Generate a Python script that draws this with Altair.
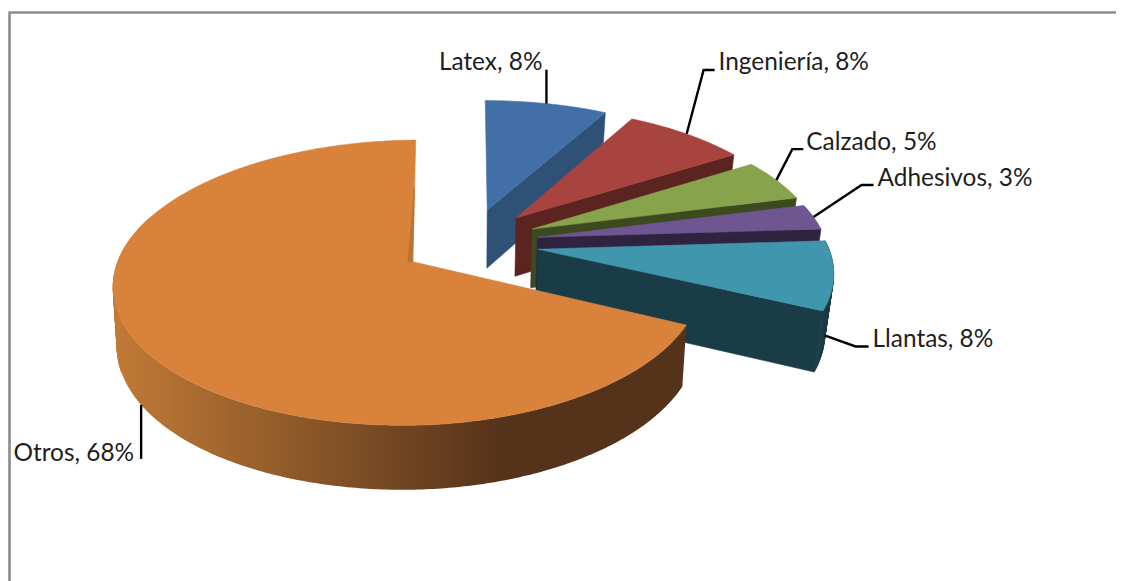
import math
import altair as alt
import pandas as pd

# ---- values ----
categories = ["Latex", "Ingeniería", "Calzado", "Adhesivos", "Llantas", "Otros"]
shares = [8, 8, 5, 3, 8, 68]

# ---- styles ----
top_colors = ["#4270a6", "#a74440", "#87a34c", "#6f5690", "#3f96ad", "#d8823b"]
wall_colors = ["#2e5175", "#5b2420", "#3b4a1f", "#2f2340", "#1a3c47", "#55321a"]
otros_wall = [(0, "#c27a36"), (0.31, "#8f5a2a"), (0.68, "#55321a"), (1, "#55321a")]

# ---- 3D view ----
X0, Y0, RX, A, K = 471, 242.7, 289, 134, 0.144
EXPLODE, EXPLODE_Y = 0.234, 1.11
S_X, S_Y, H = 0.975, 1.03, 59
OTROS_LOW_X0, OTROS_S_X = 398, 0.986
OTROS_RIGHT_SQUEEZE = 0.975
ORANGE_TRIM = (0.0, 1.0)
W, H_VIEW = 1108, 573

# leader elbows relative to the rim anchor, label offset, anchor on the lower rim?
leaders = {
    "Latex": ([(0, -34)], (-4, -41), "right", False),
    "Ingeniería": ([(17, -64), (28, -64)], (32, -71), "left", False),
    "Calzado": ([(16, -31), (27, -31)], (30, -37), "left", False),
    "Adhesivos": ([(48, -32), (60, -32)], (64, -38), "left", False),
    "Llantas": ([(31, 11), (44, 11)], (48, 5), "left", True),
    "Otros": ([(0, 54)], (-7, 49), "right", True),
}


def project(px, py):
    w = 1 + K * py
    return X0 + RX * px / w, Y0 - A * py / w


def lower(p, otros=False):
    if otros:
        x = OTROS_LOW_X0 + (p[0] - OTROS_LOW_X0) * OTROS_S_X
    else:
        x = X0 + (p[0] - X0) * S_X
    return x, Y0 + (p[1] - Y0) * S_Y + H


xs = alt.Scale(domain=[8, 8 + W], range=[0, W], nice=False, zero=False)
ys = alt.Scale(domain=[8 + H_VIEW, 8], range=[H_VIEW, 0], nice=False, zero=False)


def enc(ch, **extra):
    return ch.encode(
        x=alt.X("x:Q", scale=xs, axis=None),
        y=alt.Y("y:Q", scale=ys, axis=None),
        order="i:Q",
        **extra,
    )


def poly(points, fill):
    pts = list(points) + [points[0]]
    df = pd.DataFrame({"x": [p[0] for p in pts], "y": [p[1] for p in pts], "i": range(len(pts))})
    stroke = fill if isinstance(fill, str) else None
    kw = {"stroke": stroke, "strokeWidth": 0.6} if stroke else {"strokeWidth": 0}
    return enc(alt.Chart(df).mark_line(fill=fill, clip=True, **kw))


def sweep(upper, bottom, fill):
    rows = []
    for q in range(len(upper) - 1):
        corners = [upper[q], upper[q + 1], bottom[q + 1], bottom[q], upper[q]]
        rows += [{"x": c[0], "y": c[1], "i": i, "q": q} for i, c in enumerate(corners)]
    return enc(
        alt.Chart(pd.DataFrame(rows)).mark_line(fill=fill, stroke=fill, strokeWidth=0.6, clip=True),
        detail="q:N",
    )


def line(points, color, width):
    df = pd.DataFrame({"x": [p[0] for p in points], "y": [p[1] for p in points], "i": range(len(points))})
    return enc(alt.Chart(df).mark_line(color=color, strokeWidth=width, clip=True))


layers = [line([(9.5, 590), (9.5, 12.5), (1130, 12.5)], "#8c8c8c", 2.6)]
total = sum(shares)
start = 0
texts = []
wires = []
for idx, (name, share) in enumerate(zip(categories, shares)):
    a0 = start
    a1 = start + share / total * 360
    start = a1
    mid = math.radians((a0 + a1) / 2)
    cx = EXPLODE * math.sin(mid)
    cy = EXPLODE * EXPLODE_Y * math.cos(mid)
    otros = name == "Otros"
    if otros:
        a0 += ORANGE_TRIM[0]
        a1 -= ORANGE_TRIM[1]
    n = max(12, int((a1 - a0) * 1.5))
    angles = [a0 + (a1 - a0) * j / n for j in range(n + 1)]
    rim = []
    for t in angles:
        sx, cs = math.sin(math.radians(t)), math.cos(math.radians(t))
        if otros and sx > 0:
            sx *= OTROS_RIGHT_SQUEEZE
        rim.append(project(cx + sx, cy + cs))
    apex = project(cx, cy)
    low = [lower(p, otros) for p in rim]
    if otros:
        grad = alt.Gradient(
            gradient="linear", x1=0, x2=1, y1=0, y2=0,
            stops=[alt.GradientStop(offset=o, color=c) for o, c in otros_wall],
        )
        vis = [j for j, t in enumerate(angles) if t <= 285]
        left = [j for j, t in enumerate(angles) if 250 <= t <= 290]
        layers.append(sweep([rim[j] for j in left], [low[j] for j in left], otros_wall[0][1]))
        layers.append(poly([rim[j] for j in vis] + [low[j] for j in vis][::-1], grad))
    else:
        if name == "Llantas":
            layers.append(sweep(rim, low, wall_colors[idx]))
        layers.append(poly([apex, rim[-1], low[-1], lower(apex)], wall_colors[idx]))
    layers.append(poly([apex] + rim, top_colors[idx]))
    if otros:
        e = rim[-1]
        mid_edge = (apex[0] + (e[0] - apex[0]) * 0.6, apex[1] + (e[1] - apex[1]) * 0.6)
        layers.append(poly([apex, mid_edge, (apex[0] - 5, apex[1])], "#ba7432"))

    elbows, off, align, on_low = leaders[name]
    anchor = project(cx + math.sin(mid), cy + math.cos(mid))
    if on_low:
        anchor = lower(anchor, otros)
    wires.append(line([anchor] + [(anchor[0] + dx, anchor[1] + dy) for dx, dy in elbows], "#000000", 2.4))
    texts.append((f"{name}, {share}%", anchor[0] + off[0], anchor[1] + off[1], align))

layers += wires
for label, x, y, align in texts:
    df = pd.DataFrame({"x": [x], "y": [y], "t": [label]})
    layers.append(
        alt.Chart(df)
        .mark_text(font="Lato", fontSize=24.4, color="#1e1e1e", align=align, baseline="middle")
        .encode(x=alt.X("x:Q", scale=xs, axis=None), y=alt.Y("y:Q", scale=ys, axis=None), text="t:N")
    )

chart = (
    alt.layer(*layers)
    .properties(width=W, height=H_VIEW, padding=0, autosize=alt.AutoSizeParams(type="none"), background="#ffffff")
    .configure_view(stroke=None)
)
chart.save("out.html", embed_options={"renderer": "svg", "actions": False})
